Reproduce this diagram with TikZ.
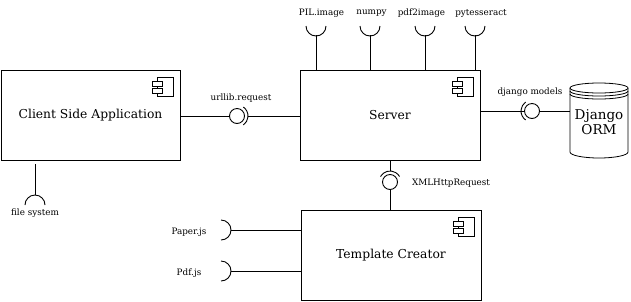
\documentclass[tikz,border=0pt]{standalone}
\usepackage{fontspec}
\setmainfont{DejaVu Serif}
\begin{document}
\begin{tikzpicture}[x=1pt,y=-1pt,line width=0.9pt,
  comp/.style={draw,rectangle,minimum width=180pt,minimum height=90pt,font=\fontsize{12.3}{14}\selectfont,inner sep=0pt},
  lbl/.style={font=\fontsize{8.8}{10}\selectfont,inner sep=0pt},
  ball/.style={draw,circle,minimum size=15pt,inner sep=0pt}]
\useasboundingbox (0,0) rectangle (631,301);

% component boxes
\node[comp,minimum width=179pt] (client) at (90.5,115) {Client Side Application};
\node[comp] (server)   at (390,115) {Server};
\node[comp] (template) at (391,255) {Template Creator};

% component glyph in the upper right corner of a box
\newcommand\compglyph[1]{%
  \begin{scope}[shift={(#1.north east)},line width=0.8pt]
    \draw (-23,8) rectangle (-7,27);
    \draw[fill=white] (-28,12) rectangle (-18,17);
    \draw[fill=white] (-28,19) rectangle (-18,24);
  \end{scope}}
\compglyph{client}
\compglyph{server}
\compglyph{template}

% Django ORM database
\begin{scope}[line width=0.8pt]
  \draw (570,88) -- (570,152) arc[start angle=180,end angle=0,x radius=29,y radius=6] -- (628,88);
  \draw[fill=white] (599,88) ellipse[x radius=29,y radius=5];
  \draw (570,91) arc[start angle=180,end angle=0,x radius=29,y radius=5];
  \draw (570,94) arc[start angle=180,end angle=0,x radius=29,y radius=5];
\end{scope}
\node[font=\fontsize{13.5}{15}\selectfont,align=center,inner sep=0pt] (orm) at (599,122) {Django\\ORM};
\coordinate (ormw) at (570,111);

% urllib.request between client and server
\node[ball] (urlball) at (237,116) {};
\draw (client.east |- urlball) -- (urlball.west);
\draw (237,116) ++(-55:11) arc[start angle=-55,end angle=55,radius=11];
\coordinate (urlsockr) at (248,116);
\draw (urlsockr) -- (server.west |- urlsockr);
\node[lbl] (urllbl) at (241,98) {urllib.request};

% django models between server and ORM
\node[ball] (djball) at (532,111) {};
\draw (server.east |- djball) -- (djball.west);
\draw (532,111) ++(125:11) arc[start angle=125,end angle=235,radius=11];
\draw (djball.east) -- (ormw);
\node[lbl] (djlbl) at (530,92) {django models};

% XMLHttpRequest between server and template creator
\node[ball] (xmlball) at (390,182) {};
\coordinate (xmlsock) at (390,171);
\draw (390,182) ++(210:11) arc[start angle=210,end angle=330,radius=11];
\draw (server.south -| xmlsock) -- (xmlsock);
\draw (xmlball.south) -- (template.north -| xmlball);
\node[lbl] (xmllbl) at (451,183) {XMLHttpRequest};

% required libraries of the server
\foreach \x/\lx/\name/\txt in {316/321.5/pil/PIL.image,370/371.5/np/numpy,425/421.5/pdf/pdf2image,475/481/tess/pytesseract}{
  \coordinate (\name) at (\x,35);
  \draw (\x,26) ++(10,0) arc[start angle=0,end angle=180,radius=10];
  \draw (\name) -- (\name |- server.north);
  \node[lbl] (\name lbl) at (\lx,13) {\txt};
}

% file system required by the client
\coordinate (fs) at (35,195);
\draw (45,205) arc[start angle=0,end angle=-180,radius=10];
\draw (35,164) -- (fs);
\node[lbl] (fslbl) at (35,213) {file system};

% libraries required by the template creator
\foreach \y/\name/\txt in {230/paper/Paper.js,271/pdfjs/Pdf.js}{
  \coordinate (\name) at (231,\y);
  \draw (221,\y) ++(-90:10) arc[start angle=-90,end angle=90,radius=10];
  \draw (\name) -- (template.west |- \name);
  \node[lbl] (\name lbl) at (189,\y+2) {\txt};
}
\end{tikzpicture}
\end{document}
